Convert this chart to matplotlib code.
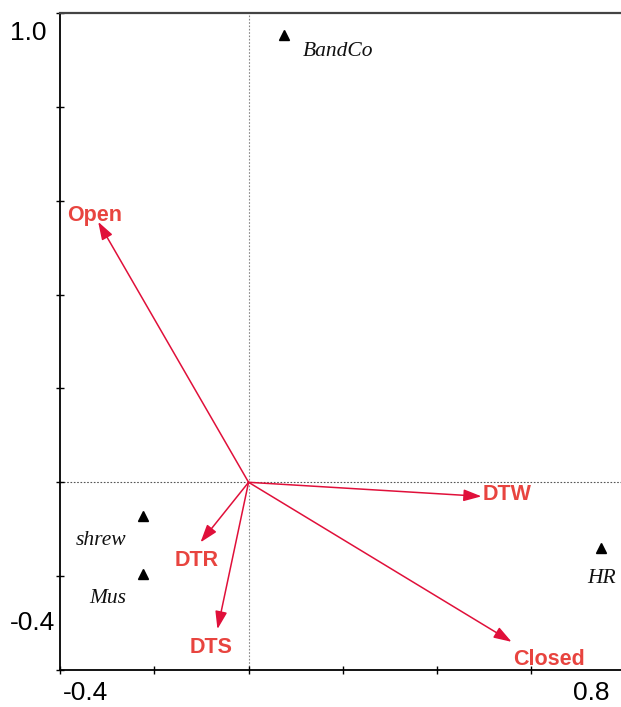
import matplotlib
matplotlib.use('Agg')  # headless backend
import matplotlib.pyplot as plt

# species scores (triangles)
species = ["BandCo", "shrew", "Mus", "HR"]
species_x = [0.076, -0.225, -0.225, 0.747]
species_y = [0.953, -0.072, -0.196, -0.140]

# environmental variables (arrows from origin)
env_vars = ["Open", "DTW", "Closed", "DTR", "DTS"]
env_x = [-0.319, 0.494, 0.558, -0.102, -0.066]
env_y = [0.555, -0.030, -0.340, -0.128, -0.313]

x_tick_labels = ["-0.4", "0.8"]
y_tick_labels = ["-0.4", "1.0"]

PX = 0.72  # points per pixel at dpi 100
ARROW_RED = "#e0103a"
LABEL_RED = "#e8443f"

# label placement: (dx px, dy px, ha)
env_offsets = {
    "Open": (-31, 1, "left"),
    "DTW": (1, -4, "left"),
    "Closed": (1, -23, "left"),
    "DTR": (-4, -24, "center"),
    "DTS": (-6, -24, "center"),
}
sp_offsets = {
    "BandCo": (18, -21, "left"),
    "shrew": (-16, -29, "right"),
    "Mus": (-16, -29, "right"),
    "HR": (1, -35, "center"),
}

fig = plt.figure(figsize=(6.21, 7.07), dpi=100)
ax = fig.add_axes([60 / 621, 37 / 707, 561 / 621, 657 / 707])
ax.set_xlim(-0.4, 0.79)
ax.set_ylim(-0.4, 1.0)

ax.axhline(0, color="#555555", lw=0.8, ls=(0, (1.5, 1.5)), zorder=1)
ax.axvline(0, color="#888888", lw=0.8, ls=(0, (1.5, 1.5)), zorder=1)

for name, x, y in zip(env_vars, env_x, env_y):
    ax.annotate("", xy=(x, y), xytext=(0, 0),
                arrowprops=dict(arrowstyle="-|>,head_length=0.9,head_width=0.3",
                                color=ARROW_RED, lw=1.1, shrinkA=0, shrinkB=0,
                                mutation_scale=12),
                zorder=3)
    dx, dy, ha = env_offsets[name]
    ax.annotate(name, xy=(x, y), xytext=(dx * PX, dy * PX), textcoords="offset points",
                ha=ha, va="baseline", color=LABEL_RED, fontsize=15.5,
                fontweight="bold", family="Liberation Sans", zorder=4)

ax.plot(species_x, species_y, ls="none", marker="^", color="black", markersize=7.5, zorder=4)
for name, x, y in zip(species, species_x, species_y):
    dx, dy, ha = sp_offsets[name]
    ax.annotate(name, xy=(x, y), xytext=(dx * PX, dy * PX), textcoords="offset points",
                ha=ha, va="baseline", fontsize=15.5, style="italic",
                family="Liberation Serif", color="#111111")

# axes styling
ax.spines["right"].set_visible(False)
for s in ["left", "bottom"]:
    ax.spines[s].set_linewidth(1.3)
    ax.spines[s].set_color("black")
ax.spines["top"].set_linewidth(1.6)
ax.spines["top"].set_color("#444444")

ax.set_xticks([-0.4, -0.2, 0.0, 0.2, 0.4, 0.6])
ax.set_yticks([-0.4, -0.2, 0.0, 0.2, 0.4, 0.6, 0.8, 1.0])
ax.tick_params(direction="inout", length=6, width=1.0, labelbottom=False, labelleft=False)

# end-of-axis labels, drawn inside the range like the original
tick_font = dict(family="Liberation Sans", fontsize=19, color="black")
ax.annotate(x_tick_labels[0], xy=(-0.4, 0), xycoords=("data", "axes fraction"),
            xytext=(25 * PX, -23 * PX), textcoords="offset points",
            ha="center", va="center", annotation_clip=False, **tick_font)
ax.annotate(x_tick_labels[1], xy=(0.8, 0), xycoords=("data", "axes fraction"),
            xytext=(-34 * PX, -23 * PX), textcoords="offset points",
            ha="center", va="center", annotation_clip=False, **tick_font)
ax.annotate(y_tick_labels[0], xy=(0, -0.4), xycoords=("axes fraction", "data"),
            xytext=(-50 * PX, 47 * PX), textcoords="offset points",
            ha="left", va="center", annotation_clip=False, **tick_font)
ax.annotate(y_tick_labels[1], xy=(0, 1.0), xycoords=("axes fraction", "data"),
            xytext=(-50 * PX, -20 * PX), textcoords="offset points",
            ha="left", va="center", annotation_clip=False, **tick_font)

fig.savefig("out.png", dpi=100)
plt.close(fig)
